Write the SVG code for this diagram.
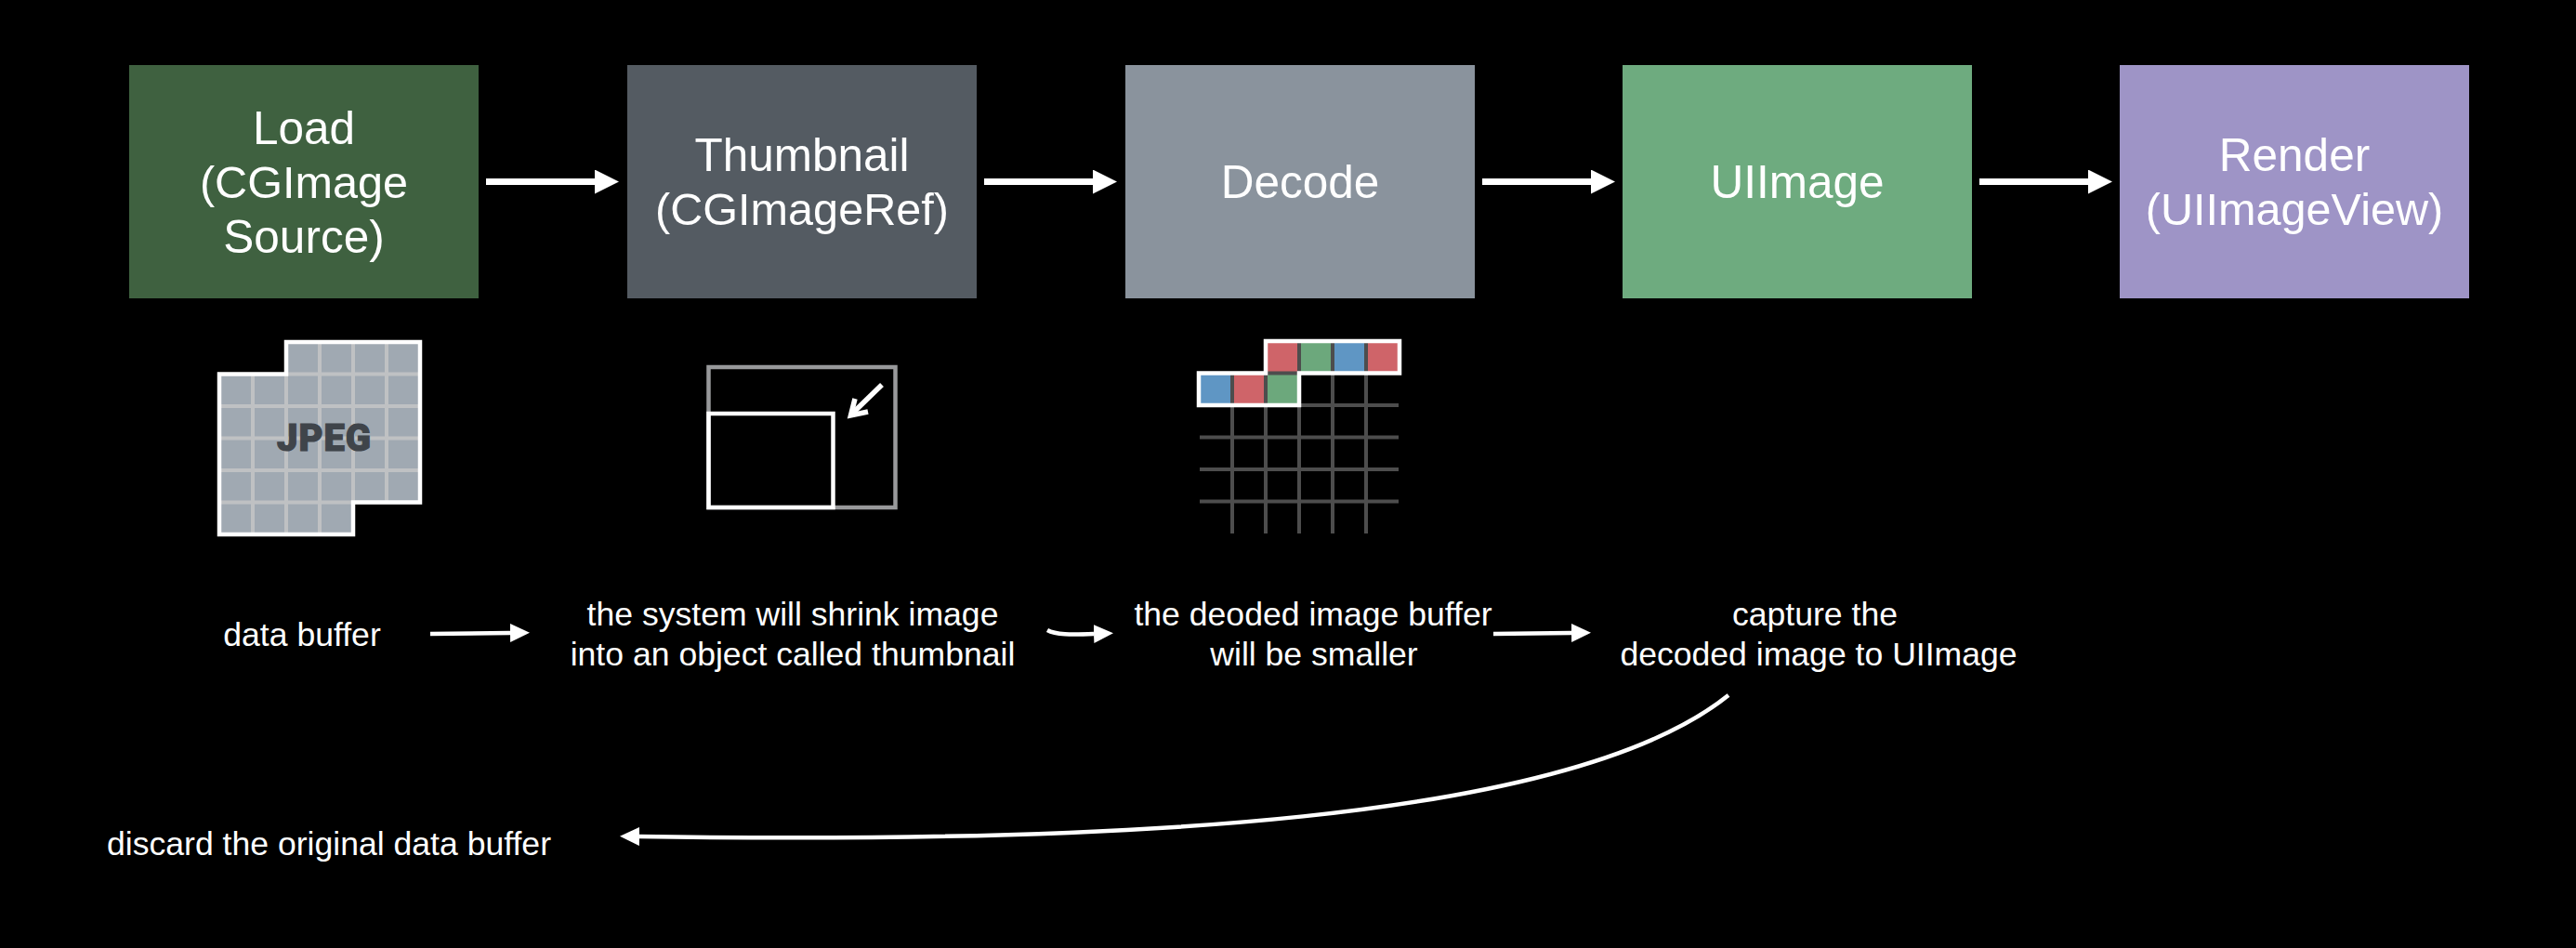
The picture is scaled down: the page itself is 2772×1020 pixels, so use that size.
<svg xmlns="http://www.w3.org/2000/svg" width="2772" height="1020" viewBox="0 0 2772 1020">
<defs>
<marker id="bigHead" markerUnits="userSpaceOnUse" markerWidth="28" markerHeight="28" refX="0" refY="13" orient="auto"><path d="M0 0L26 13L0 26Z" fill="#fff"/></marker>
<marker id="smallHead" markerUnits="userSpaceOnUse" markerWidth="24" markerHeight="24" refX="0" refY="10" orient="auto"><path d="M0 0L21 10L0 20Z" fill="#fff"/></marker>
</defs>
<style>
text{font-family:"Liberation Sans",Arial,Helvetica,sans-serif;fill:#fff;text-anchor:middle}
.t{font-size:49.5px}
.p{font-size:48.6px}
.l{font-size:35.6px}
.big{fill:none;stroke:#fff;stroke-width:7;marker-end:url(#bigHead)}
.small{fill:none;stroke:#fff;stroke-width:4.5;marker-end:url(#smallHead)}
.jg{stroke:#bfc1c3;stroke-width:4;fill:none}
.dg{stroke:#4d4d4d;stroke-width:4;fill:none}
.o{fill:none;stroke:#fff;stroke-width:4.5}
</style>
<rect width="2772" height="1020" fill="#000"/>
<g id="load"><rect x="139" y="70" width="376" height="251" fill="#3f6140"/><text class="t" x="327" y="155">Load</text><text class="p" x="327" y="213">(CGImage</text><text class="t" x="327" y="272">Source)</text></g>
<g id="thumbnail"><rect x="675" y="70" width="376" height="251" fill="#545b62"/><text class="t" x="863" y="184">Thumbnail</text><text class="p" x="863" y="242">(CGImageRef)</text></g>
<g id="decode"><rect x="1211" y="70" width="376" height="251" fill="#8a939d"/><text class="t" x="1399" y="213">Decode</text></g>
<g id="uiimage"><rect x="1746" y="70" width="376" height="251" fill="#6eab7f"/><text class="t" x="1934" y="213">UIImage</text></g>
<g id="render"><rect x="2281" y="70" width="376" height="251" fill="#9e94c6"/><text class="t" x="2469" y="184">Render</text><text class="p" x="2469" y="242">(UIImageView)</text></g>
<g id="jpeg-icon">
<path d="M308 368H452V540.5H380V575H236V402.5H308Z" fill="#a0a9b2"/>
<path class="jg" d="M272 402.5V575M308 368V575M344 368V575M380 368V575M416 368V540.5M308 402.5H452M236 437H452M236 471.5H452M236 506H452M236 540.5H380"/>
<path class="o" d="M308 368H452V540.5H380V575H236V402.5H308Z"/>
<text x="349" y="485" style="font-family:'Roboto','Liberation Sans',sans-serif;font-weight:900;font-size:40px;fill:#3f444a;stroke:#3f444a;stroke-width:1.2px;letter-spacing:1px">JPEG</text>
</g>
<g id="thumbnail-icon">
<rect x="762.5" y="395" width="201" height="151" fill="none" stroke="#98999b" stroke-width="4.5"/>
<rect x="762.5" y="445" width="134" height="101" class="o"/>
<path d="M949 414L917 445" stroke="#fff" stroke-width="5.5" fill="none"/>
<path d="M920 429L915.5 447L934 443" stroke="#fff" stroke-width="5.5" fill="none"/>
</g>
<g id="decode-icon">
<path class="dg" d="M1326 401V574M1362 401V574M1398 401V574M1434 401V574M1470 401V574M1291 436H1505M1291 470.5H1505M1291 505H1505M1291 539.5H1505"/>
<rect x="1362" y="367" width="36" height="34.5" fill="#cf6469"/><rect x="1398" y="367" width="36" height="34.5" fill="#6ca87c"/><rect x="1434" y="367" width="36" height="34.5" fill="#5f96c4"/><rect x="1470" y="367" width="36" height="34.5" fill="#cf6469"/>
<rect x="1290" y="401.5" width="36" height="34.5" fill="#5f96c4"/><rect x="1326" y="401.5" width="36" height="34.5" fill="#cf6469"/><rect x="1362" y="401.5" width="36" height="34.5" fill="#6ca87c"/>
<path class="dg" d="M1398 367V401.5M1434 367V401.5M1470 367V401.5M1326 401.5V436M1362 401.5V436M1362 401.5H1398"/>
<path class="o" d="M1362 367H1506V401.5H1398V436H1290V401.5H1362Z"/>
</g>
<g id="label-data-buffer"><text class="l" x="325" y="695">data buffer</text></g>
<g id="label-shrink"><text class="l" x="853" y="673">the system will shrink image</text><text class="l" x="853" y="716">into an object called thumbnail</text></g>
<g id="label-decoded"><text class="l" x="1413" y="673">the deoded image buffer</text><text class="l" x="1414" y="716">will be smaller</text></g>
<g id="label-capture"><text class="l" x="1953" y="673">capture the</text><text class="l" x="1957" y="716">decoded image to UIImage</text></g>
<g id="label-discard"><text class="l" x="354" y="920">discard the original data buffer</text></g>
<g id="connectors">
<path class="big" d="M523 195.5H640"/>
<path class="big" d="M1059 195.5H1176"/>
<path class="big" d="M1595 195.5H1712"/>
<path class="big" d="M2130 195.5H2247"/>
<path class="small" d="M463 682L549 681"/>
<path class="small" d="M1127 678C1136 683 1152 683 1177 682"/>
<path class="small" d="M1607 682L1691 681"/>
<path class="small" d="M1860 748C1690 885 1200 908 688 900"/>
</g>
</svg>
